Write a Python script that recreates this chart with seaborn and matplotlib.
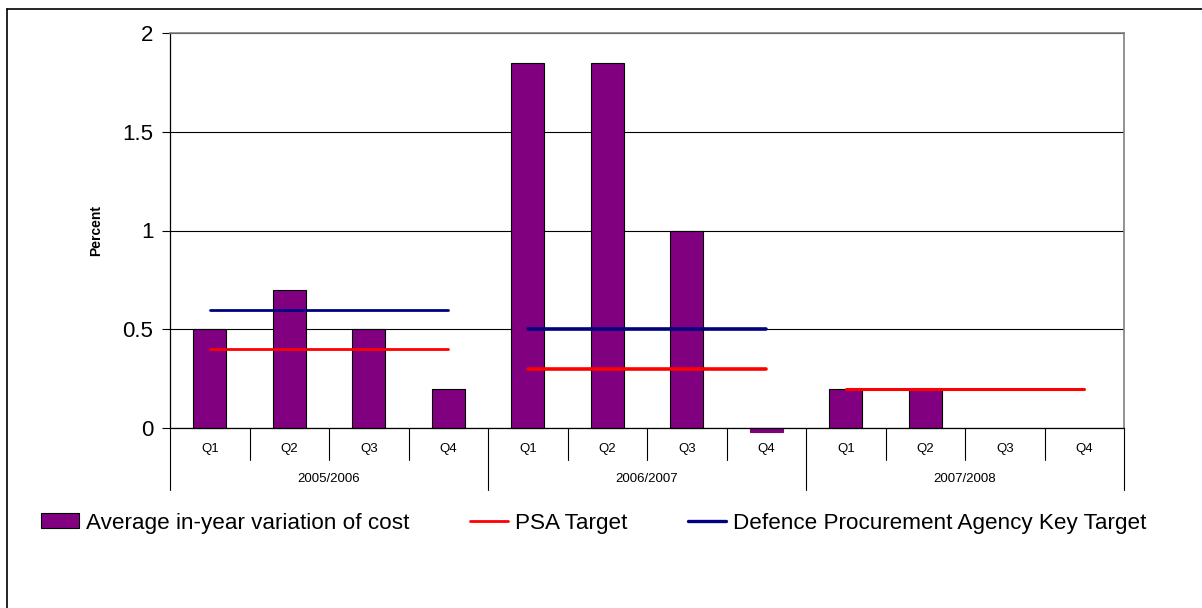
import numpy as np
import pandas as pd
import matplotlib
matplotlib.use("Agg")
import matplotlib.pyplot as plt
import matplotlib.transforms as mtransforms
from matplotlib.lines import Line2D
from matplotlib.patches import Patch
import seaborn as sns

# Data
years = ["2005/2006", "2006/2007", "2007/2008"]
quarters = ["Q1", "Q2", "Q3", "Q4"]
avg_variation = [0.5, 0.7, 0.5, 0.2,
                 1.85, 1.85, 1.0, -0.02,
                 0.2, 0.2, np.nan, np.nan]
psa_target = [0.4, 0.4, 0.4, 0.4,
              0.3, 0.3, 0.3, 0.3,
              0.2, 0.2, 0.2, 0.2]
dpa_target = [0.6, 0.6, 0.6, 0.6,
              0.5, 0.5, 0.5, 0.5,
              np.nan, np.nan, np.nan, np.nan]

bar_label = "Average in-year variation of cost"
psa_label = "PSA Target"
dpa_label = "Defence Procurement Agency Key Target"
y_label = "Percent"

sns.set_theme(style="white", rc={"text.color": "black", "axes.labelcolor": "black",
                                 "xtick.color": "black", "ytick.color": "black"})
plt.rcParams["font.family"] = ["Liberation Sans", "DejaVu Sans"]

cat = [f"{y} {q}" for y in years for q in quarters]
df = pd.DataFrame({"cat": cat, "value": avg_variation})

fig = plt.figure(figsize=(12.02, 6.08), dpi=100)
ax = fig.add_axes([170 / 1202, 1 - 428 / 608, (1124 - 170) / 1202, (428 - 33) / 608])

sns.barplot(data=df, x="cat", y="value", order=cat, color="#800080",
            saturation=1, width=0.42, edgecolor="black", linewidth=0.8, ax=ax)
for p in ax.patches:
    p.set_clip_on(False)
    if p.get_height() < 0:
        p.set_edgecolor("#800080")

pos = np.arange(len(cat))
psa = np.array(psa_target)
dpa = np.array(dpa_target)
line_w = [2.0, 2.6, 2.2]
for g in range(len(years)):
    idx = slice(4 * g, 4 * g + 4)
    ax.plot(pos[idx], dpa[idx], color="#000080", lw=line_w[g], zorder=3)
    ax.plot(pos[idx], psa[idx], color="#ff0000", lw=line_w[g], zorder=3)

ax.set_xlim(-0.5, len(cat) - 0.5)
ax.set_ylim(0, 2)
ax.set_yticks([0, 0.5, 1, 1.5, 2])
ax.set_yticklabels(["0", "0.5", "1", "1.5", "2"], fontsize=16)
ax.yaxis.grid(True, color="black", lw=0.8)
ax.set_axisbelow(True)
ax.tick_params(axis="y", left=True, length=6, width=0.8, color="black",
               labelcolor="black", pad=6)
ax.set_ylabel(y_label, fontsize=10, fontweight="bold", labelpad=14, color="black")
ax.set_xlabel("")

ax.set_xticks(pos)
ax.set_xticklabels(quarters * len(years), fontsize=9.5)
ax.tick_params(axis="x", bottom=False, length=0, pad=11, labelcolor="black")

for s in ["top", "right"]:
    ax.spines[s].set_color("#808080")
    ax.spines[s].set_linewidth(1.2)
ax.spines["left"].set_color("black")
ax.spines["left"].set_linewidth(0.9)
ax.spines["bottom"].set_color("black")
ax.spines["bottom"].set_linewidth(0.9)

# category separators below the axis
trans = mtransforms.blended_transform_factory(ax.transData, ax.transAxes)
px = 1.0 / (428 - 33)
for k in range(len(cat) + 1):
    xb = k - 0.5
    depth = 62 if k % 4 == 0 else 32
    ax.add_line(Line2D([xb, xb], [0, -depth * px], transform=trans,
                       color="black", lw=0.8, clip_on=False))
for g, y in enumerate(years):
    ax.text(4 * g + 1.5, -51 * px, y, transform=trans, ha="center",
            va="center", fontsize=9.5, color="black")

handles = [Patch(facecolor="#800080", edgecolor="black", linewidth=0.8),
           Line2D([], [], color="#ff0000", lw=2),
           Line2D([], [], color="#000080", lw=2.4)]
fig.legend(handles, [bar_label, psa_label, dpa_label], loc="center",
           bbox_to_anchor=(0.494, 1 - 523 / 608), ncol=3, frameon=False,
           fontsize=16.2, handlelength=1.7, handleheight=0.62,
           handletextpad=0.3, columnspacing=2.7, labelcolor="black")

# outer chart frame
fig.add_artist(Line2D([7 / 1202, 7 / 1202], [0, 1 - 9 / 608],
                      transform=fig.transFigure, color="black", lw=1.2))
fig.add_artist(Line2D([7 / 1202, 1], [1 - 9 / 608, 1 - 9 / 608],
                      transform=fig.transFigure, color="black", lw=1.2))

fig.savefig("out.png", dpi=100, facecolor="white")
